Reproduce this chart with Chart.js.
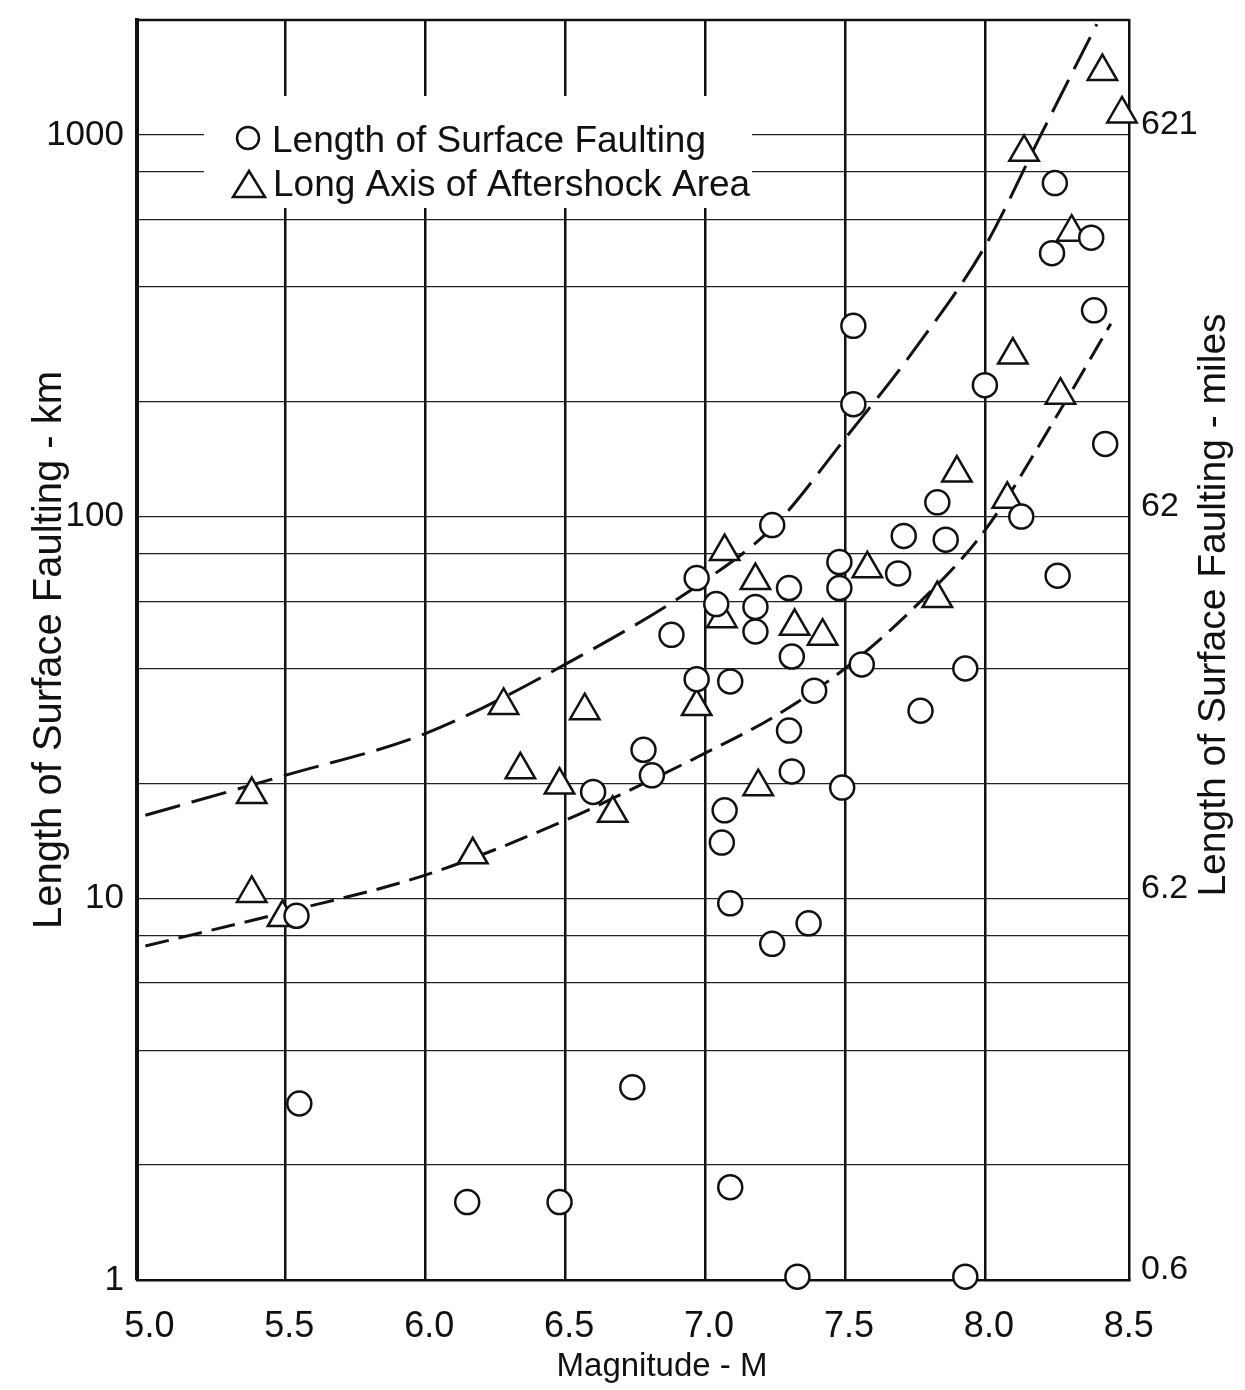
<!DOCTYPE html>
<html><head><meta charset="utf-8">
<script src="https://cdn.jsdelivr.net/npm/chart.js@4.4.1/dist/chart.umd.min.js"></script>
<style>html,body{margin:0;padding:0;background:#fff;}canvas{display:block;}</style>
</head><body>
<canvas id="c" width="1245" height="1390"></canvas>
<script>
// ---- data ----
const xTicks = [5.0, 5.5, 6.0, 6.5, 7.0, 7.5, 8.0, 8.5];
const yGridKm = [1, 2, 4, 6, 8, 10, 20, 40, 60, 80, 100, 200, 400, 600, 800, 1000];
const yLabelKm = [1, 10, 100, 1000];
const milesLabels = ['0.6', '6.2', '62', '621'];

const circleM  = [5.54, 5.55, 6.15, 6.48, 6.60, 6.74, 6.78, 6.81, 6.88, 6.97, 6.97, 7.04, 7.09, 7.07, 7.06, 7.09, 7.09, 7.18, 7.18, 7.24, 7.24, 7.30, 7.31, 7.30, 7.31, 7.33, 7.37, 7.39, 7.48, 7.48, 7.49, 7.53, 7.53, 7.56, 7.69, 7.71, 7.77, 7.83, 7.86, 7.93, 7.93, 8.00, 8.13, 8.25, 8.24, 8.26, 8.38, 8.39, 8.43];
const circleKm = [9.0, 2.9, 1.6, 1.6, 19, 3.2, 24.5, 21, 49, 37.5, 69, 59, 37, 17, 14, 9.7, 1.75, 50, 58, 7.6, 95, 65, 43, 27.5, 21.5, 1.02, 8.6, 35, 76, 65, 19.5, 316, 197, 41, 71, 89, 31, 109, 87, 40, 1.02, 221, 100, 748, 490, 70, 538, 347, 155];

const triM  = [5.38, 5.38, 5.49, 6.17, 6.28, 6.34, 6.48, 6.57, 6.67, 6.97, 7.06, 7.07, 7.18, 7.19, 7.32, 7.42, 7.58, 7.83, 7.90, 8.08, 8.10, 8.14, 8.27, 8.31, 8.42, 8.49];
const triKm = [18.7, 10.3, 8.9, 13, 32, 21.7, 19.8, 31, 16.7, 31.8, 54, 81, 68, 19.6, 51.6, 48.6, 73, 61, 130, 111, 265, 900, 208, 556, 1465, 1135];

const upperM  = [5.0, 5.5, 6.0, 6.5, 7.0, 7.25, 7.5, 7.75, 8.0, 8.2, 8.4];
const upperKm = [16.5, 21, 27, 41, 68, 95, 160, 275, 510, 1000, 1950];
const lowerM  = [5.0, 5.5, 6.0, 6.5, 6.75, 7.0, 7.25, 7.5, 7.75, 8.0, 8.25, 8.45];
const lowerKm = [7.5, 9.2, 11.5, 16, 19.5, 24, 30, 40, 58, 92, 180, 320];

const legendLabels = ['Length of Surface Faulting', 'Long Axis of Aftershock Area'];
const xTitle = 'Magnitude - M';
const yTitleKm = 'Length of Surface Faulting - km';
const yTitleMiles = 'Length of Surface Faulting - miles';

// ---- helpers ----
const pts = (xs, ys) => xs.map((x, i) => ({x: x, y: ys[i]}));
const FONT = '"Liberation Sans", Arial, sans-serif';
const INK = '#111';

const decorPlugin = {
  id: 'decor',
  afterDatasetsDraw(chart) {
    const {ctx, chartArea: a} = chart;
    ctx.save();
    // top frame line
    ctx.strokeStyle = INK; ctx.lineWidth = 2.5;
    ctx.beginPath(); ctx.moveTo(a.left, a.top); ctx.lineTo(a.right, a.top); ctx.stroke();
    // legend box (white, covers grid)
    ctx.fillStyle = '#fff';
    ctx.fillRect(204, 96, 548, 112);
    // legend markers
    ctx.lineWidth = 2.5; ctx.strokeStyle = INK;
    ctx.beginPath(); ctx.arc(248, 138, 11, 0, Math.PI * 2); ctx.stroke();
    ctx.beginPath(); ctx.moveTo(249, 171); ctx.lineTo(265, 197); ctx.lineTo(233, 197); ctx.closePath(); ctx.stroke();
    // legend text
    ctx.fillStyle = INK; ctx.font = '37px ' + FONT; ctx.textAlign = 'left'; ctx.textBaseline = 'alphabetic';
    ctx.fillText(legendLabels[0], 272, 152);
    ctx.fillText(legendLabels[1], 273, 196);
    // x title
    ctx.textAlign = 'center';
    ctx.font = '33px ' + FONT;
    ctx.fillText(xTitle, 662, 1376);
    // y titles (both read bottom-to-top)
    ctx.font = '40px ' + FONT;
    ctx.save(); ctx.translate(61, 650); ctx.rotate(-Math.PI / 2); ctx.fillText(yTitleKm, 0, 0); ctx.restore();
    ctx.font = '39px ' + FONT;
    ctx.save(); ctx.translate(1225, 605); ctx.rotate(-Math.PI / 2); ctx.fillText(yTitleMiles, 0, 0); ctx.restore();
    ctx.restore();
  }
};

const hideEdge = c => (c.tick && (c.tick.value === 5 || c.tick.value === 8.5)) ? 'rgba(0,0,0,0)' : INK;

new Chart(document.getElementById('c'), {
  type: 'scatter',
  data: {
    datasets: [
      {label: legendLabels[0], data: pts(circleM, circleKm), pointStyle: 'circle', pointRadius: 12,
       borderColor: INK, backgroundColor: '#fff', pointBorderWidth: 2.5, clip: false},
      {label: legendLabels[1], data: pts(triM, triKm), pointStyle: 'triangle', pointRadius: 17,
       borderColor: INK, backgroundColor: '#fff', pointBorderWidth: 2.5, clip: false},
      {label: 'upper', data: pts(upperM, upperKm), showLine: true, pointRadius: 0, borderColor: INK,
       borderWidth: 3, borderDash: [36, 12], cubicInterpolationMode: 'monotone', fill: false},
      {label: 'lower', data: pts(lowerM, lowerKm), showLine: true, pointRadius: 0, borderColor: INK,
       borderWidth: 3, borderDash: [24, 10], cubicInterpolationMode: 'monotone', fill: false}
    ]
  },
  options: {
    responsive: false, animation: false, devicePixelRatio: 1,
    layout: {padding: {top: 20, left: 0, right: 0, bottom: 0}},
    plugins: {legend: {display: false}, tooltip: {enabled: false}, title: {display: false}},
    scales: {
      x: {
        type: 'linear', min: 4.97, max: 8.515,
        afterBuildTicks: s => { s.ticks = xTicks.map(v => ({value: v})); },
        afterFit: s => { s.height = 110; s.paddingLeft = 0; s.paddingRight = 0; },
        ticks: {callback: v => Number(v).toFixed(1), color: INK, font: {family: FONT, size: 36}, padding: 25, labelOffset: 4, maxRotation: 0, autoSkip: false},
        grid: {color: hideEdge, lineWidth: 2.5, drawTicks: false},
        border: {display: true, color: INK, width: 2.5},
        title: {display: false}
      },
      y: {
        type: 'logarithmic', position: 'left', min: 1, max: 2000,
        afterBuildTicks: s => { s.ticks = yGridKm.map(v => ({value: v})); },
        afterFit: s => { s.width = 137; s.paddingTop = 0; s.paddingBottom = 0; },
        ticks: {callback: v => yLabelKm.includes(v) ? String(v) : '', color: INK, font: {family: FONT, size: 35}, padding: 13, autoSkip: false},
        grid: {color: '#222', lineWidth: 1.3, drawTicks: false},
        border: {display: true, color: INK, width: 4}
      },
      y2: {
        type: 'logarithmic', position: 'right', min: 1, max: 2000,
        afterBuildTicks: s => { s.ticks = yLabelKm.map(v => ({value: v})); },
        afterFit: s => { s.width = 116; s.paddingTop = 0; s.paddingBottom = 0; },
        ticks: {callback: v => milesLabels[yLabelKm.indexOf(v)] || '', color: INK, font: {family: FONT, size: 34}, padding: 12, labelOffset: -10, autoSkip: false},
        grid: {display: false, drawTicks: false},
        border: {display: true, color: INK, width: 2.5}
      }
    }
  },
  plugins: [decorPlugin]
});
</script>
</body></html>
